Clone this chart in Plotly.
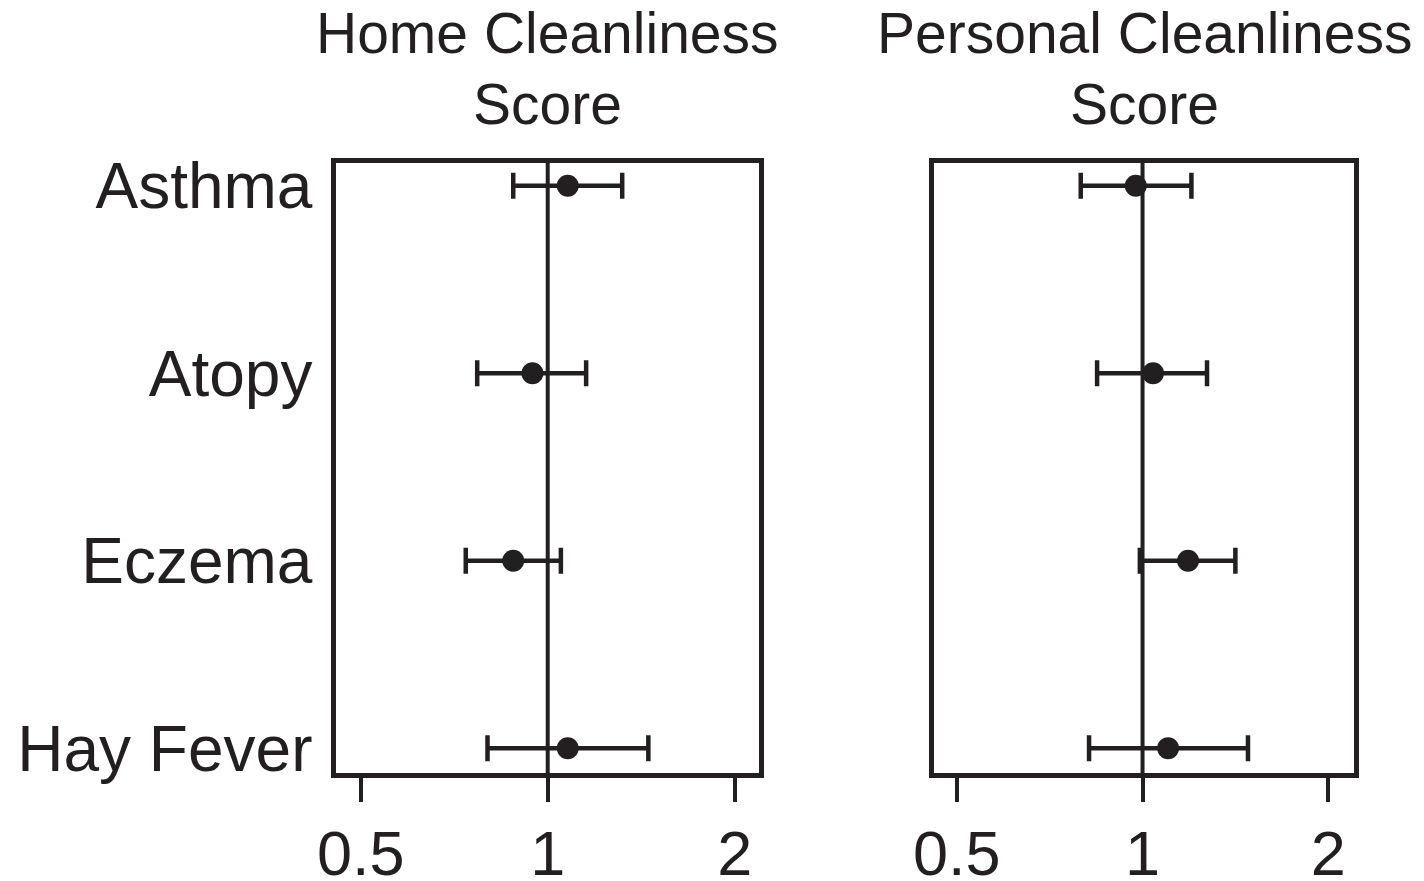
import plotly.graph_objects as go

# Data (odds ratios with 95% CI)
outcomes = ["Asthma", "Atopy", "Eczema", "Hay Fever"]
home_or = [1.077, 0.945, 0.880, 1.077]
home_lo = [0.880, 0.770, 0.738, 0.800]
home_hi = [1.318, 1.153, 1.050, 1.452]
pers_or = [0.975, 1.040, 1.185, 1.100]
pers_lo = [0.794, 0.844, 0.990, 0.819]
pers_hi = [1.200, 1.272, 1.414, 1.482]
panel_titles = [["Home Cleanliness", "Score"], ["Personal Cleanliness", "Score"]]
x_ticks = [0.5, 1, 2]
x_ticktext = ["0.5", "1", "2"]

INK = "#231f20"
FONT = "Liberation Sans, Arial, Helvetica, sans-serif"
OFF = 8  # browser body margin
W, H = 1424 - 2 * OFF, 881 - OFF


def px_x(p):
    return (p - OFF) / W


def px_y(p):
    return 1 - (p - OFF) / H


fig = go.Figure()
ypos = list(range(len(outcomes)))

panels = [
    (home_or, home_lo, home_hi, "x", "y"),
    (pers_or, pers_lo, pers_hi, "x2", "y2"),
]
for est, lo, hi, xa, ya in panels:
    fig.add_trace(go.Scatter(
        x=est, y=ypos, xaxis=xa, yaxis=ya, mode="markers",
        marker=dict(size=22, color=INK),
        error_x=dict(type="data", symmetric=False,
                     array=[h - e for h, e in zip(hi, est)],
                     arrayminus=[e - l for e, l in zip(est, lo)],
                     color=INK, thickness=4.5, width=13),
        showlegend=False, hoverinfo="skip",
    ))

dom_x1 = [px_x(336), px_x(759)]
dom_x2 = [px_x(934), px_x(1354)]
dom_y = [px_y(773), px_y(163)]

xcommon = dict(type="log", tickvals=x_ticks, ticktext=x_ticktext,
               ticks="outside", ticklen=24, tickwidth=4, tickcolor=INK,
               showline=True, linewidth=4.5, linecolor=INK, mirror=True,
               showgrid=False, zeroline=False, automargin=False,
               tickfont=dict(family=FONT, size=63, color=INK),
               ticklabelstandoff=-2)
ycommon = dict(range=[3.132, -0.121], showline=True, linewidth=4.5, linecolor=INK,
               mirror=True, showgrid=False, zeroline=False, automargin=False,
               tickvals=ypos, ticktext=outcomes, ticks="",
               tickfont=dict(family=FONT, size=64, color=INK))

fig.update_layout(
    width=W, height=H,
    margin=dict(l=0, r=0, t=0, b=0, pad=0),
    paper_bgcolor="white", plot_bgcolor="white",
    xaxis=dict(domain=dom_x1, range=[-0.3408, 0.3401], anchor="y", **xcommon),
    xaxis2=dict(domain=dom_x2, range=[-0.338, 0.3427], anchor="y2", **xcommon),
    yaxis=dict(domain=dom_y, anchor="x", showticklabels=True, ticklabelstandoff=6, **ycommon),
    yaxis2=dict(domain=dom_y, anchor="x2", showticklabels=False, **ycommon),
)

# reference line at 1
for xa, ya in [("x", "y"), ("x2", "y2")]:
    fig.add_shape(type="line", xref=xa, yref=ya + " domain", x0=1, x1=1, y0=0, y1=1,
                  line=dict(color=INK, width=4), layer="below")

# panel titles (two lines each)
for (l1, l2), dom in zip(panel_titles, [dom_x1, dom_x2]):
    cx = (dom[0] + dom[1]) / 2
    fig.add_annotation(text=l1, xref="paper", yref="paper", x=cx, y=px_y(33),
                       showarrow=False, xanchor="center", yanchor="middle",
                       font=dict(family=FONT, size=57, color=INK))
    fig.add_annotation(text=l2, xref="paper", yref="paper", x=cx, y=px_y(104),
                       showarrow=False, xanchor="center", yanchor="middle",
                       font=dict(family=FONT, size=57, color=INK))

fig.write_html("out.html")
